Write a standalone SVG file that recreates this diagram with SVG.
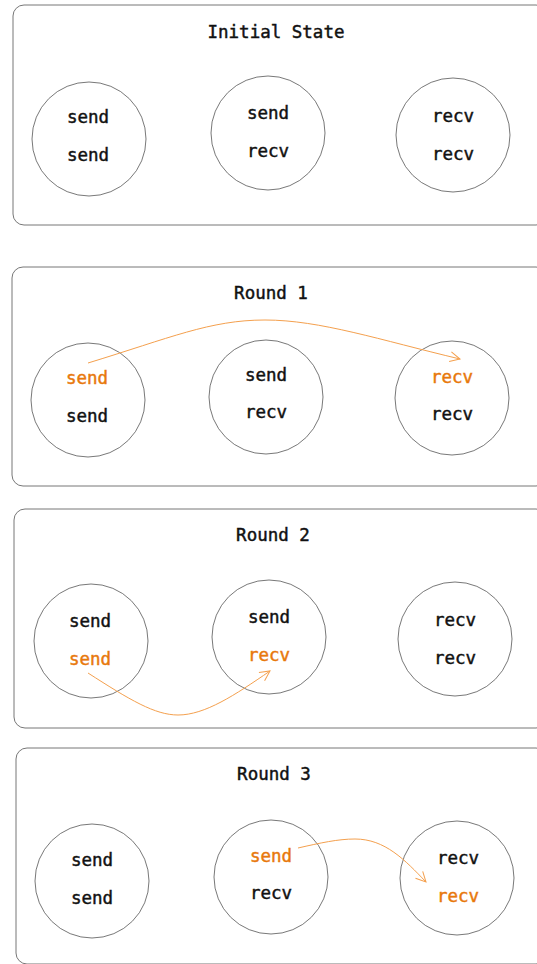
<svg xmlns="http://www.w3.org/2000/svg" width="537" height="964" viewBox="0 0 537 964">
  <style>
    .panel { fill: #ffffff; stroke: #777777; stroke-width: 1; }
    .node { fill: #ffffff; stroke: #555555; stroke-width: 0.8; }
    .t { font-family: "DejaVu Sans Mono", "Liberation Mono", monospace; font-size: 17.5px; fill: #111111; stroke: #111111; stroke-width: 0.45; text-anchor: middle; dominant-baseline: central; }
    .hl { fill: #e8780c; stroke: #e8780c; }
    .link { fill: none; stroke: #f4a04e; stroke-width: 1; }
  </style>
  <defs>
    <marker id="open" viewBox="0 0 12 12" refX="11" refY="6" markerWidth="12" markerHeight="12" markerUnits="userSpaceOnUse" orient="auto">
      <path d="M1,1 L11,6 L1,11" fill="none" stroke="#f4a04e" stroke-width="1"/>
    </marker>
  </defs>
  <rect width="537" height="964" fill="#ffffff"/>

  <!-- Initial State -->
  <g id="panel-initial">
    <rect class="panel" x="13" y="5" width="534" height="220" rx="11"/>
    <text class="t" x="276" y="32">Initial State</text>
  </g>
  <g id="init-a"><circle class="node" cx="89" cy="139" r="57"/><text class="t" x="88" y="117">send</text><text class="t" x="88" y="155">send</text></g>
  <g id="init-b"><circle class="node" cx="268" cy="133" r="57"/><text class="t" x="268" y="113">send</text><text class="t" x="268" y="151">recv</text></g>
  <g id="init-c"><circle class="node" cx="453" cy="135" r="57"/><text class="t" x="453" y="116">recv</text><text class="t" x="453" y="154">recv</text></g>

  <!-- Round 1 -->
  <g id="panel-round1">
    <rect class="panel" x="12" y="267" width="535" height="219" rx="11"/>
    <text class="t" x="271" y="293">Round 1</text>
  </g>
  <g id="r1-a"><circle class="node" cx="88" cy="400" r="57"/><text class="t hl" x="87" y="378">send</text><text class="t" x="87" y="416">send</text></g>
  <g id="r1-b"><circle class="node" cx="266" cy="397" r="57"/><text class="t" x="266" y="375">send</text><text class="t" x="266" y="412">recv</text></g>
  <g id="r1-c"><circle class="node" cx="452" cy="398" r="57"/><text class="t hl" x="452" y="377">recv</text><text class="t" x="452" y="414">recv</text></g>

  <!-- Round 2 -->
  <g id="panel-round2">
    <rect class="panel" x="14" y="509" width="533" height="219" rx="11"/>
    <text class="t" x="273" y="535">Round 2</text>
  </g>
  <g id="r2-a"><circle class="node" cx="91" cy="641" r="57"/><text class="t" x="90" y="621">send</text><text class="t hl" x="90" y="659">send</text></g>
  <g id="r2-b"><circle class="node" cx="269" cy="637" r="57"/><text class="t" x="269" y="617">send</text><text class="t hl" x="269" y="655">recv</text></g>
  <g id="r2-c"><circle class="node" cx="455" cy="639" r="57"/><text class="t" x="455" y="620">recv</text><text class="t" x="455" y="658">recv</text></g>

  <!-- Round 3 -->
  <g id="panel-round3">
    <rect class="panel" x="16" y="748" width="531" height="216" rx="11"/>
    <text class="t" x="274" y="774">Round 3</text>
  </g>
  <g id="r3-a"><circle class="node" cx="92" cy="881" r="57"/><text class="t" x="92" y="860">send</text><text class="t" x="92" y="898">send</text></g>
  <g id="r3-b"><circle class="node" cx="271" cy="877" r="57"/><text class="t hl" x="271" y="856">send</text><text class="t" x="271" y="893">recv</text></g>
  <g id="r3-c"><circle class="node" cx="457" cy="878" r="57"/><text class="t" x="458" y="858">recv</text><text class="t hl" x="458" y="896">recv</text></g>

  <!-- transfers -->
  <g id="connectors">
    <path class="link" marker-end="url(#open)" d="M88,363 C170,338 210,320 265,320 C320,320 380,340 460,359"/>
    <path class="link" marker-end="url(#open)" d="M88,673 C130,700 155,715 178,715 C205,715 235,695 270,671"/>
    <path class="link" marker-end="url(#open)" d="M298,848 C320,843 338,839 355,839 C385,839 405,860 426,882"/>
  </g>
</svg>
